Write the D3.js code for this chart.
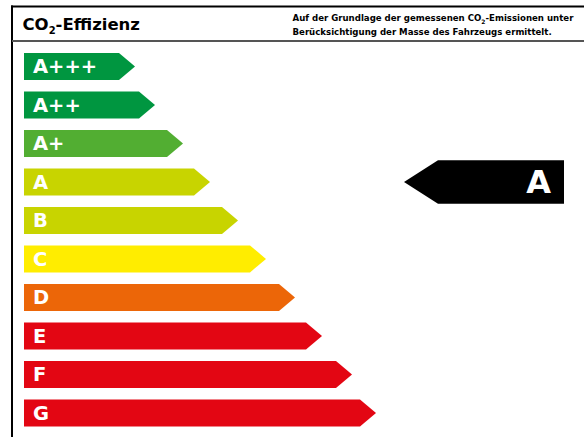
<!DOCTYPE html>
<html><head><meta charset="utf-8">
<script src="https://cdn.jsdelivr.net/npm/d3@7"></script>
<style>html,body{margin:0;padding:0;background:#fff;}svg{display:block;}</style>
</head><body>
<svg id="chart" width="584" height="437"></svg>
<script>
const classes = ["A+++","A++","A+","A","B","C","D","E","F","G"];
const barLengths = [111,131,159,186,214,242,271,298,328,352];
const barColors = ["#009640","#009640","#52AE32","#C8D400","#C8D400","#FFED00","#EC6608","#E30613","#E30613","#E30613"];
const selectedClass = "A";
const titleMain = "CO";
const titleSub = "2";
const titleRest = "-Effizienz";
const noteLine1 = ["Auf der Grundlage der gemessenen CO","2","-Emissionen unter"];
const noteLine2 = "Berücksichtigung der Masse des Fahrzeugs ermittelt.";

const svg = d3.select("#chart");
const W = 584, H = 437;
const font = "'DejaVu Sans', Verdana, sans-serif";

// frame
svg.append("line").attr("x1",11).attr("x2",W).attr("y1",6.5).attr("y2",6.5).attr("stroke","#000").attr("stroke-width",2.2);
svg.append("line").attr("x1",12).attr("x2",12).attr("y1",5.5).attr("y2",H).attr("stroke","#000").attr("stroke-width",2);
svg.append("line").attr("x1",12).attr("x2",W).attr("y1",41).attr("y2",41).attr("stroke","#555").attr("stroke-width",2);

// title
const t = svg.append("text").attr("x",22.5).attr("y",30).attr("font-family",font).attr("font-weight","bold").attr("font-size",16.5).attr("fill","#000");
t.append("tspan").text(titleMain);
t.append("tspan").attr("font-size",10).attr("dy",4).text(titleSub);
t.append("tspan").attr("dy",-4).text(titleRest);

const n1 = svg.append("text").attr("x",292.5).attr("y",21).attr("font-family",font).attr("font-weight","bold").attr("font-size",8.6).attr("fill","#000");
n1.append("tspan").text(noteLine1[0]);
n1.append("tspan").attr("font-size",6).attr("dy",2.5).text(noteLine1[1]);
n1.append("tspan").attr("dy",-2.5).text(noteLine1[2]);
svg.append("text").attr("x",292.5).attr("y",34.5).attr("font-family",font).attr("font-weight","bold").attr("font-size",8.6).attr("fill","#000").text(noteLine2);

// scales
const y = d3.scaleBand().domain(classes).range([47.2,432.2]).paddingInner(0.3).paddingOuter(0.15);
const x = d3.scaleLinear().domain([0,352]).range([24,376]);
const tip = 16;

const rows = classes.map((c,i)=>({c, len:barLengths[i], color:barColors[i]}));
const g = svg.append("g");
g.selectAll("path.bar").data(rows).join("path").attr("class","bar")
  .attr("fill",d=>d.color)
  .attr("d",d=>{
    const x0 = x(0), x1 = x(d.len), y0 = y(d.c), h = y.bandwidth();
    return `M${x0},${y0}H${x1-tip}L${x1},${y0+h/2}L${x1-tip},${y0+h}H${x0}Z`;
  });
g.selectAll("text.lab").data(rows).join("text").attr("class","lab")
  .attr("x",33).attr("y",d=>y(d.c)+y.bandwidth()/2+7)
  .attr("font-family",font).attr("font-weight","bold").attr("font-size",19.5).attr("fill","#fff")
  .text(d=>d.c);

// indicator arrow
const yc = y(selectedClass)+y.bandwidth()/2;
const ah = 43.5, ax0 = 404, ax1 = 564, atip = 34;
svg.append("path").attr("fill","#000")
  .attr("d",`M${ax0},${yc}L${ax0+atip},${yc-ah/2}H${ax1}V${yc+ah/2}H${ax0+atip}Z`);
svg.append("text").attr("x",551).attr("y",yc+11.5).attr("text-anchor","end")
  .attr("font-family",font).attr("font-weight","bold").attr("font-size",32).attr("fill","#fff").text(selectedClass);
</script>
</body></html>
